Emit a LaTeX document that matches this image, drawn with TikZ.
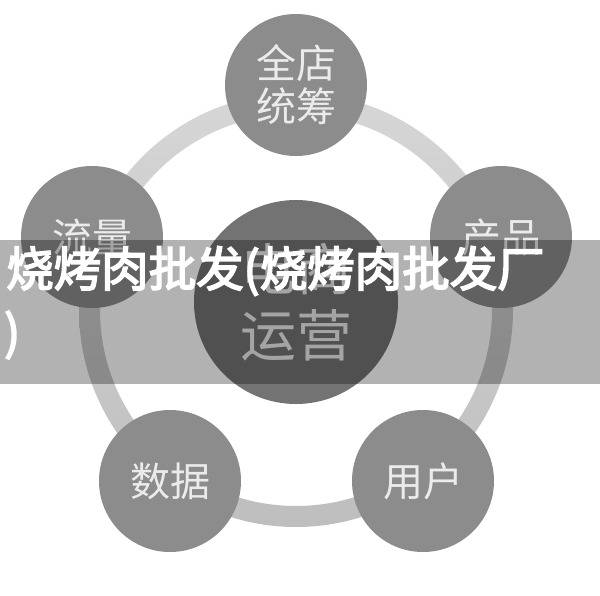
\documentclass[tikz,border=0pt]{standalone}
\usepackage{fontspec}
\usepackage{xcolor}
\newfontfamily\cjk{Noto Sans CJK SC}
\newfontfamily\cjkbold[FakeBold=3.5]{Noto Sans CJK SC}
\definecolor{ringtop}{HTML}{D6D6D6}
\definecolor{ringbottom}{HTML}{BEBEBE}
\definecolor{maingray}{HTML}{8C8C8C}
\definecolor{hubgray}{HTML}{737373}
\definecolor{labelgray}{HTML}{EBEBEB}

\begin{document}
\begin{tikzpicture}[x=1pt, y=-1pt,
    main/.style={circle, fill=maingray, minimum size=142pt, inner sep=0pt, text=labelgray,
      align=center, font=\cjk\fontsize{40}{43}\selectfont},
    hub/.style={main, fill=hubgray, minimum size=204pt, font=\cjk\fontsize{56}{66}\selectfont},
    banner/.style={anchor=west, inner sep=0pt, text=white, font=\cjkbold\fontsize{47.5}{47.5}\selectfont}]
  \useasboundingbox (0,0) rectangle (600,595);
  \fill[white] (0,0) rectangle (600,595);
  % ring
  \shade[top color=ringtop, bottom color=ringbottom, even odd rule]
    (296,310) circle (217pt) (296,310) circle (196pt);
  % circles
  \node[main] (quan) at (296,85) {全店\\统筹};
  \node[main] (liu) at (92,237) {流量};
  \node[main] (chan) at (501,237) {产品};
  \node[main] (shu) at (170,481) {数据};
  \node[main] (yong) at (423,481) {用户};
  \node[hub] (dian) at (296,302) {电商\\运营};
  % banner
  \fill[black, opacity=0.3] (0,240) rectangle (600,384);
  \node[banner] (title) at (6,271) {烧烤肉批发(烧烤肉批发厂};
  \node[banner] (paren) at (4,335) {)};
\end{tikzpicture}
\end{document}
